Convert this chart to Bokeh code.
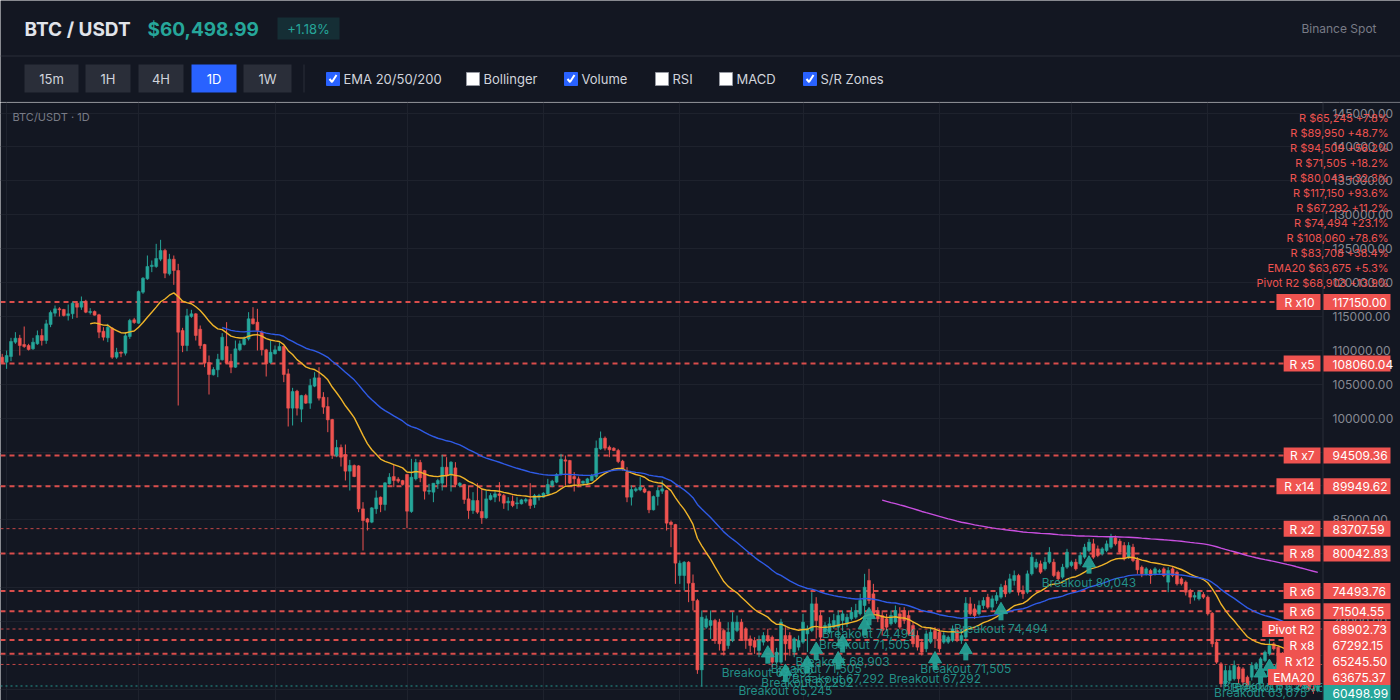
import pandas as pd
from bokeh.plotting import figure
from bokeh.layouts import column
from bokeh.models import Range1d, MonthsTicker, FixedTicker
from bokeh.embed import file_html
from bokeh.resources import INLINE
from bokeh.core.properties import value

# ---------------- data ----------------
symbol = "BTC / USDT"
exchange = "Binance Spot"
start_date = "2025-08-31"

opens = [108999,108262,109098,111212,111802,110868,110720,110229,110966,112195,111458,113818,115490,116129,116031,115146,115392,116965,116375,117260,
115588,115736,115244,112835,111851,113277,108999,109737,109589,112048,114506,114015,118588,120555,122374,122374,123455,124734,121292,123455,
121784,112933,110720,114998,115392,113130,110868,108213,106394,107131,108606,110573,108409,107524,110081,110868,111704,114654,114162,112687,
110081,108213,109491,109983,110573,106541,101476,103984,101329,103345,102214,104722,105951,103099,101722,99804,94494,95674,94641,92183,
93019,92970,86627,85152,84660,86627,88348,87267,90314,91396,91003,90806,91691,86234,91052,93462,92281,89183,89085,90314,
90413,92773,91642,92675,90068,90216,88102,86381,87856,86234,85299,88004,88348,88840,88594,87512,87758,87364,87364,87758,
88004,87266,88348,88348,88840,90068,90560,91691,93855,93757,91396,91052,90413,90413,90806,91396,95477,97051,95723,95576,
95232,93659,92037,88349,89332,89431,89578,89185,86481,88447,89234,89332,84661,84317,76794,76794,78761,75663,73106,62879,
69174,69420,70157,69912,68682,66470,67207,68682,69912,68928,67453,67207,65733,66962,67945,67699,64011,64011,67945,67945,
65487,66224,66962,68190,68682,72616,70895,68436,68436,69174,69174,70157,69666,70403,70649,71141,72370,76058,74091,71632,
70895,70403,69666,69912,71141,71632,70895,69420,67945,66962,65978,66962,68682,68436,66962,66962,67207,68682,67207,67700,
72616,71878,71141,72370,73599,72124,73107,73599,75320,74337,76058,76796,74583,74337,77041,78024,78516,77779,78762,78762,
77287,76550,78024,78270,78762,78516,79500,80483,81466,80729,79991,80483,80975,82351,81859,81220,79500,80975,79106,78024,
77041,77533,77041,77287,77779,75812,77779,77287,76304,75812,74583,73599,73353,73992,73599,71239,66962,63765,60815,61307,
61553,63273,63027,61798,61798,63027,63273,64257,65240,66716,66224,64995,63765,62535,63273,61798,60569,61307,60077,59793]

highs = [109490,109983,111851,112687,112294,113523,110966,111851,112933,113179,114506,115883,116621,116375,116129,116768,117211,117260,117948,117457,
116227,115883,115392,113425,113916,113425,110376,109835,112687,114654,114801,118833,120800,123996,123259,125717,126307,124980,124242,123996,
122767,113326,116129,115982,115490,113671,110966,109245,107524,109491,112540,114162,109491,111458,111458,112048,115637,116375,116129,112933,
110229,111458,110720,111212,110720,107278,104476,104181,103443,103591,105803,106787,107524,103837,103099,99903,96805,96116,96116,93855,
93167,93068,87610,85299,86873,89331,88447,90560,91888,93167,91298,90904,91790,94002,94002,93855,92380,90314,90413,91052,
94592,94248,93658,93511,90560,90314,90068,89085,90413,89577,89331,88938,89233,90560,88840,88348,88594,88348,88102,88250,
90413,88840,88840,89085,91052,90904,91888,94740,94494,93855,92035,91396,90806,91200,91790,96707,98034,97297,95969,95723,
95477,93856,92774,90070,89824,91299,89824,89332,88595,89824,90808,89431,84907,84415,79007,78908,78908,76942,73352,71632,
70895,71632,70403,70403,68928,69912,71387,70895,70403,69174,67945,67699,67945,68436,68928,67945,66126,70403,69174,68436,
67699,67945,71141,69420,74337,73599,71632,69912,70649,71141,71632,71632,71141,72124,72616,74091,77041,77779,75566,72124,
71632,71141,71632,72370,72124,72124,71632,69912,68682,67453,68682,69174,69174,68928,68436,67945,69420,69174,68928,73600,
73599,72616,73107,73599,74091,73845,74337,75566,76058,77041,77533,77041,75320,77533,80237,79254,79008,79500,80975,79254,
77533,78516,80729,79008,79254,80237,81466,82204,82204,81220,80975,81958,82941,82695,82204,81712,81712,81466,79500,78270,
78024,77779,78024,77779,78024,78024,78024,77533,76550,76058,74829,74337,74583,74337,73845,71387,67207,64011,63519,63519,
64257,63519,63273,62044,64011,64011,64749,65733,67453,66962,66470,65487,64011,63519,63519,62044,61553,61553,60569,60815]

lows = [108016,107278,108409,110966,109245,110376,109983,110081,110819,110720,110966,113425,114998,114998,114998,114408,114654,114801,115982,115490,
115293,115146,111802,111458,111212,108753,108753,108999,109245,111704,113916,113916,118342,120407,121538,122177,123160,120653,121046,119669,
101870,109737,109884,114801,111458,110229,107524,103493,106295,106049,108508,108016,106640,107426,109884,110720,111458,113818,109983,109245,
106148,108016,109393,109884,105312,98772,98919,100395,99411,102116,101378,104574,102607,100641,97936,94002,94248,92871,90806,89331,
91298,86135,80480,83431,84512,85889,86135,86381,90216,89823,90413,90068,83775,86037,90806,90560,88004,88741,87610,89577,
89331,89823,89183,89823,89823,87364,85152,85889,85889,84414,85152,87856,87610,87708,86627,86381,86873,86627,87266,87463,
86627,86774,87856,88250,88594,89823,90413,91544,90068,90314,89183,89823,90068,90216,90708,91052,95330,95232,94248,95134,
93363,92283,87611,87120,89086,89234,88939,85989,86383,87120,88840,83431,80973,75565,75565,74582,72861,71636,62289,60400,
68928,67453,66716,65733,64995,65978,66962,68436,67207,65978,65487,65241,64749,66470,66962,63274,63765,63765,64250,64995,
64749,65733,66716,65500,68436,67500,67207,68190,68190,68928,66100,68600,69174,70157,70403,70895,71100,72616,70649,69912,
67945,68682,69420,69666,68928,69666,67945,66224,65733,64995,65487,66716,66100,65487,66716,66716,66962,66962,66716,67450,
70895,70403,70895,71878,71878,71632,72616,73353,73599,74091,75320,73845,73353,74091,76796,77779,77041,77533,78516,76550,
76058,76304,77779,78024,77533,78270,79254,80237,79254,79500,79746,80237,80729,81220,79991,79008,79254,78762,77041,76550,
76796,75566,76796,77041,76550,74337,76550,75320,75320,73845,72616,73107,73107,73353,70895,66224,63765,60323,60323,60815,
61307,60815,60569,60323,61307,62781,64000,64011,64995,65733,64749,63519,62289,62044,61553,60323,60077,59831,59340,59586]

closes = [108164,109245,111311,111802,110720,110573,110130,111212,112195,111458,113916,115588,116129,115982,115146,115392,116965,116375,117211,115637,
115736,115195,112687,111950,113425,108999,109737,109589,112146,114408,114113,118686,120653,122374,122570,123554,124734,121390,123455,121784,
112687,110720,115097,115392,112195,110720,108115,106443,107180,108704,111950,108115,107524,110229,110966,111704,114654,113916,112933,110081,
108016,109737,110081,110573,106443,101476,103935,101476,103345,102214,104820,105951,102951,101624,99755,94494,95674,94248,92183,93019,
91396,86627,84906,84660,86774,88250,87267,90462,91298,90806,90708,90216,86283,91298,93462,91200,89233,89331,90413,90806,
92773,91544,93511,90216,90413,88004,86381,87856,86135,85299,88102,88594,88840,88594,87463,87758,87119,87512,87954,88004,
87119,88594,88594,88938,90216,90708,91691,93953,93658,90413,91052,90314,90708,91052,91544,95576,97051,95576,95330,95232,
93609,92528,88349,89480,89578,89824,89086,86481,88447,89332,89578,84513,84317,78614,78614,78761,75663,73106,62879,70648,
70403,70157,67207,66716,65733,68436,69912,69912,67453,67207,66470,66224,67207,67945,67207,64011,65487,69912,66716,65978,
67453,67207,69912,68928,72616,70157,67699,69420,69666,70157,70895,71141,70649,71387,71632,73107,75074,73107,71141,70403,
68682,69174,70895,71632,69174,70157,68190,66716,66224,65487,68190,68436,67453,65978,67945,67699,68928,67453,67945,72700,
71141,70895,72370,73107,72124,73353,73845,75074,74091,76304,76796,74337,74091,77041,79500,78762,77287,78762,80237,76796,
76304,78024,80237,78762,77779,79746,80975,81712,79500,79746,80729,81466,82450,81466,80237,79254,81220,79008,77631,77041,
77779,76796,77779,77533,76796,77533,76796,75566,75566,74337,73599,73845,74337,73599,71141,66716,64011,60815,62781,62781,
63519,61553,61061,60569,63519,63765,64503,65487,66470,65978,64995,63765,62535,63273,61798,60569,61307,60077,59793,60498.99]

ema_periods = [20, 50, 200]

level_prices = [117150.00, 108060.04, 94509.36, 89949.62, 83707.59, 80042.83,
                74493.76, 71504.55, 68902.73, 67292.15, 65245.498, 63675.37]
level_names = ["R x10", "R x5", "R x7", "R x14", "R x2", "R x8",
               "R x6", "R x6", "Pivot R2", "R x8", "R x12", "EMA20"]
legend_order = [10, 3, 2, 7, 5, 0, 9, 6, 1, 4, 11, 8]

breakout_idx = [174, 178, 183, 185, 190, 191, 196, 197, 212, 219, 227, 247, 286, 288, 290]
breakout_level = [67292, 65245, 67292, 71505, 67292, 68903, 71505, 74494, 67292,
                  71505, 74494, 80043, 63675, 65245, 63675]

price_ticks = list(range(60000, 145001, 5000))
timeframes = ["15m", "1H", "4H", "1D", "1W"]
active_tf = "1D"
toggles = ["EMA 20/50/200", "Bollinger", "Volume", "RSI", "MACD", "S/R Zones"]
toggles_on = [True, False, True, False, False, True]

# ---------------- style ----------------
FONT = "Inter"
BG = "#131722"
GRID = "#1e222d"
BORDER = "#2a2e39"
UP = "#26a69a"
DOWN = "#ef5350"
TXT = "#d1d4dc"
MUTED = "#787b86"
BLUE = "#2962ff"
EMA_COLORS = ["#f0b429", "#2f5be6", "#c94fe0"]

DAY = 86400000.0
dates = pd.date_range(start_date, periods=len(closes), freq="D")
t0 = dates[0].value / 1e6
SPAN = 4.4          # px per candle
X0PX = 1.7          # px of first candle
W, H_HEAD, H_CHART = 1400, 102, 598
Y_TOP, Y_BOT = 146563.5, 58358.5
TAG_GAP = 16


def page_y(v):
    return H_HEAD + (Y_TOP - v) / (Y_TOP - Y_BOT) * H_CHART


def text_w(s, size):
    w = 0.0
    for ch in s:
        if ch == " ":
            w += 0.28
        elif ch in "iltIj.,":
            w += 0.3
        elif ch == "M":
            w += 0.85
        elif ch.isupper():
            w += 0.66
        elif ch.isdigit():
            w += 0.6
        else:
            w += 0.53
    return w * size


def ema(vals, n):
    k = 2.0 / (n + 1)
    out, e = [], vals[0]
    for v in vals:
        e = v * k + e * (1 - k)
        out.append(e)
    return out


last = closes[-1]
chg = (closes[-1] / closes[-2] - 1) * 100

# ---------------- header figure ----------------
h = figure(width=W, height=H_HEAD, x_range=Range1d(0, W), y_range=Range1d(H_HEAD, 0),
           output_backend="svg", toolbar_location=None, min_border=0,
           background_fill_color=BG, border_fill_color=BG, outline_line_color=None)
h.axis.visible = False
h.grid.visible = False

h.segment(x0=[0, 0], y0=[55.5, 101.5], x1=[W, W], y1=[55.5, 101.5], line_color=BORDER, line_width=1)
h.text(x=[24], y=[29], text=[symbol], text_font=value(FONT), text_font_size=value("19px"),
       text_font_style="bold", text_color="#e1e4ea", text_baseline="middle")
h.text(x=[147], y=[29], text=[f"${last:,.2f}"], text_font=value(FONT), text_font_size=value("19px"),
       text_font_style="bold", text_color=UP, text_baseline="middle")
h.quad(left=[277], right=[339], top=[17], bottom=[39], fill_color=UP, fill_alpha=0.16, line_color=None)
h.text(x=[308], y=[28.5], text=[f"+{chg:.2f}%"], text_font=value(FONT), text_font_size=value("13px"),
       text_color=UP, text_align="center", text_baseline="middle")
h.text(x=[1376], y=[28], text=[exchange], text_font=value(FONT), text_font_size=value("12px"),
       text_color=MUTED, text_align="right", text_baseline="middle")

# timeframe buttons
btn_l = [24, 85, 138, 191, 243]
btn_r = [78, 130, 183, 236, 291]
btn_fill = [BLUE if t == active_tf else BORDER for t in timeframes]
h.quad(left=btn_l, right=btn_r, top=[64] * 5, bottom=[92] * 5, fill_color=btn_fill, line_color=None)
h.text(x=[(a + b) / 2 for a, b in zip(btn_l, btn_r)], y=[78.5] * 5, text=timeframes,
       text_font=value(FONT), text_font_size=value("13px"),
       text_color=["#ffffff" if t == active_tf else TXT for t in timeframes],
       text_align="center", text_baseline="middle")
h.segment(x0=[303.5], y0=[64], x1=[303.5], y1=[92], line_color=BORDER, line_width=1)

# checkboxes
cb_x = [326, 466, 564, 655, 719, 803]
h.quad(left=cb_x, right=[x + 13 for x in cb_x], top=[72] * 6, bottom=[85] * 6,
       fill_color=[BLUE if on else "#ffffff" for on in toggles_on],
       line_color=[BLUE if on else "#9598a1" for on in toggles_on], line_width=1)
chk = [x for x, on in zip(cb_x, toggles_on) if on]
h.multi_line(xs=[[x + 3, x + 5.5, x + 10] for x in chk], ys=[[78.5, 81.5, 74.5] for _ in chk],
             line_color="#ffffff", line_width=2)
h.text(x=[x + 17 for x in cb_x], y=[78.5] * 6, text=toggles, text_font=value(FONT),
       text_font_size=value("13px"), text_color=TXT, text_baseline="middle")

# ---------------- chart figure ----------------
x_start = t0 + (0 - X0PX) / SPAN * DAY
x_end = t0 + (W - X0PX) / SPAN * DAY
p = figure(width=W, height=H_CHART, x_axis_type="datetime",
           x_range=Range1d(x_start, x_end), y_range=Range1d(Y_BOT, Y_TOP),
           output_backend="svg", toolbar_location=None, min_border=0,
           background_fill_color=BG, border_fill_color=BG, outline_line_color=None)
p.extra_x_ranges = {"px": Range1d(0, W)}
p.extra_y_ranges = {"py": Range1d(H_HEAD + H_CHART, H_HEAD)}
p.xaxis.visible = False
p.yaxis.visible = False
p.xgrid.ticker = MonthsTicker(months=list(range(1, 13)))
p.ygrid.ticker = FixedTicker(ticks=price_ticks)
p.grid.grid_line_color = GRID
p.grid.grid_line_width = 1

# level lines
for pr, nm in zip(level_prices, level_names):
    strong = nm.startswith("R x") and int(nm[3:]) >= 5
    p.segment(x0=[0], y0=[pr], x1=[1322], y1=[pr], x_range_name="px",
              line_color=DOWN, line_width=2 if strong else 1,
              line_dash="5 4" if strong else "3 3", line_alpha=0.9 if strong else 0.8)
p.segment(x0=[0], y0=[last], x1=[1322], y1=[last], x_range_name="px",
          line_color=UP, line_width=1, line_dash="2 3", line_alpha=0.9)

# candles
cols = [UP if c >= o else DOWN for o, c in zip(opens, closes)]
p.segment(x0=dates, y0=lows, x1=dates, y1=highs, line_color=cols, line_width=1)
p.vbar(x=dates, width=0.68 * DAY,
       top=[max(o, c) for o, c in zip(opens, closes)],
       bottom=[min(o, c) for o, c in zip(opens, closes)],
       fill_color=cols, line_color=cols, line_width=0.5)

# EMAs
for n, colr in zip(ema_periods, EMA_COLORS):
    e = ema(closes, n)
    p.line(x=dates[n:], y=e[n:], line_color=colr, line_width=1.4)

# breakouts
bx = [dates[i] for i in breakout_idx]
arrow_py = [page_y(lows[i]) + 13 for i in breakout_idx]
p.scatter(x=bx, y=[a - 2 for a in arrow_py], y_range_name="py", marker="triangle",
          size=13, fill_color=UP, line_color=UP, fill_alpha=0.9, line_alpha=0.9)
p.rect(x=bx, y=[a + 5 for a in arrow_py], width=5, height=7, width_units="screen",
       height_units="screen", y_range_name="py", fill_color=UP, line_color=None, fill_alpha=0.9)
p.text(x=bx, y=[a + 17 for a in arrow_py], y_range_name="py",
       text=[f"Breakout {lv:,}" for lv in breakout_level], text_font=value(FONT),
       text_font_size=value("12px"), text_color=UP, text_alpha=0.85,
       text_align="center", text_baseline="middle")

# price scale panel
p.quad(left=[1322], right=[W], top=[H_HEAD], bottom=[H_HEAD + H_CHART],
       x_range_name="px", y_range_name="py", fill_color=BG, line_color=None)
p.segment(x0=[1322.5], y0=[H_HEAD], x1=[1322.5], y1=[H_HEAD + H_CHART],
          x_range_name="px", y_range_name="py", line_color=BORDER, line_width=1)
p.text(x=[1332] * len(price_ticks), y=price_ticks, x_range_name="px",
       text=[f"{t:.2f}" for t in price_ticks], text_font=value(FONT),
       text_font_size=value("12px"), text_color="#868993", text_baseline="middle")

# chart caption
p.text(x=[12], y=[116], x_range_name="px", y_range_name="py", text=["BTC/USDT · 1D"],
       text_font=value(FONT), text_font_size=value("11px"), text_color=MUTED,
       text_baseline="middle")

# top-right list of levels
leg_txt = []
for k in legend_order:
    nm, pr = level_names[k], level_prices[k]
    tag = "R" if nm.startswith("R x") else nm
    leg_txt.append(f"{tag} ${pr:,.0f} +{(pr / last - 1) * 100:.1f}%")
p.text(x=[1388] * len(leg_txt), y=[117 + 15 * j for j in range(len(leg_txt))],
       x_range_name="px", y_range_name="py", text=leg_txt, text_font=value(FONT),
       text_font_size=value("11px"), text_color=DOWN, text_align="right", text_baseline="middle")

# level tags on the price scale (stacked to avoid overlap)
items = sorted(zip(level_prices, level_names), key=lambda t: -t[0]) + [(last, None)]
prev = -1e9
lab_y = []
for pr, nm in items:
    yy = max(page_y(pr), prev + TAG_GAP)
    lab_y.append(yy)
    prev = yy
for (pr, nm), yy in zip(items, lab_y):
    boxc = UP if nm is None else DOWN
    p.quad(left=[1323], right=[1390], top=[yy - 8], bottom=[yy + 8],
           x_range_name="px", y_range_name="py", fill_color=boxc, line_color=None)
    p.text(x=[1332], y=[yy + 0.5], x_range_name="px", y_range_name="py", text=[f"{pr:.2f}"],
           text_font=value(FONT), text_font_size=value("12px"), text_color="#ffffff",
           text_baseline="middle")
    if nm is not None:
        wbox = text_w(nm, 12) + 12
        p.quad(left=[1320 - wbox], right=[1320], top=[yy - 8], bottom=[yy + 8],
               x_range_name="px", y_range_name="py", fill_color=DOWN, line_color=None)
        p.text(x=[1314], y=[yy + 0.5], x_range_name="px", y_range_name="py", text=[nm],
               text_font=value(FONT), text_font_size=value("12px"), text_color="#ffffff",
               text_align="right", text_baseline="middle")

layout = column(h, p, spacing=0)
open("out.html", "w").write(file_html(layout, INLINE))
